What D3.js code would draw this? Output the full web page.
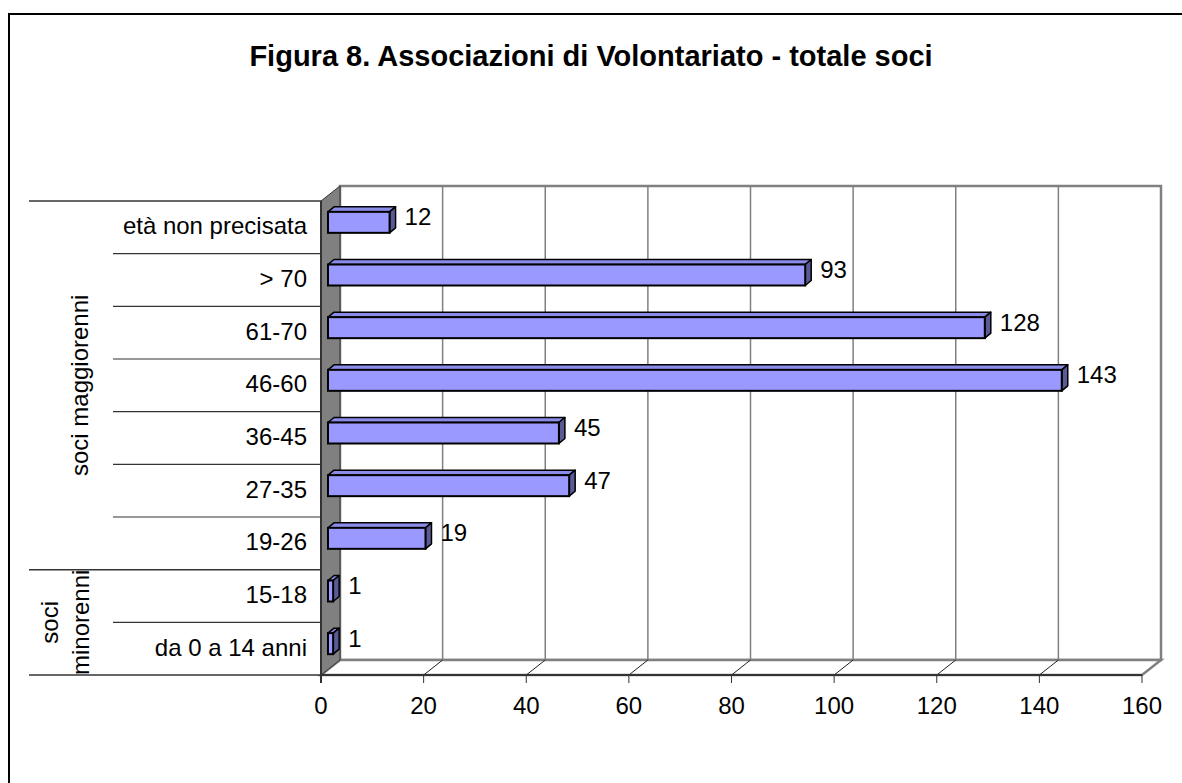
<!DOCTYPE html>
<html lang="it">
<head>
<meta charset="UTF-8">
<script src="https://d3js.org/d3.v7.min.js"></script>
<style>
  body { margin: 0; background: #fff; }
  svg text { font-family: Arial, "Liberation Sans", sans-serif; fill: #000; }
</style>
</head>
<body>
<svg id="chart" width="1182" height="783"></svg>
<script>
// categories listed top to bottom as they appear
const categories = ["età non precisata", "> 70", "61-70", "46-60", "36-45", "27-35", "19-26", "15-18", "da 0 a 14 anni"];
const values = [12, 93, 128, 143, 45, 47, 19, 1, 1];
const groupLabels = [["soci maggiorenni"], ["soci", "minorenni"]];
const groupSizes = [7, 2];
const xTicks = [0, 20, 40, 60, 80, 100, 120, 140, 160];
const title = "Figura 8. Associazioni di Volontariato - totale soci";

const svg = d3.select('#chart');
const DX = 19, DY = -15;      // depth of the 3d box
const BX = 7, BY = -5;        // bar position inside the depth
const TX = 6, TY = -5;        // bar thickness (depth)
const FS = 24;

const x = d3.scaleLinear().domain([0, 160]).range([321, 1142]);
const y = d3.scaleBand().domain(categories).range([201, 675]).paddingInner(0).paddingOuter(0);
const barH = 21;

// outer frame
svg.append('rect').attr('x', 9).attr('y', 14).attr('width', 1200).attr('height', 800)
  .attr('fill', 'none').attr('stroke', '#000').attr('stroke-width', 2);

svg.append('text').attr('x', 591).attr('y', 66).attr('text-anchor', 'middle')
  .style('font-size', '29px').style('font-weight', 'bold').text(title);

const x0 = x(0), yTop = 201, yBot = 675, xEnd = x(160);

// back wall
svg.append('rect').attr('x', x0 + DX).attr('y', yTop + DY)
  .attr('width', xEnd - x0).attr('height', yBot - yTop)
  .attr('fill', '#fff').attr('stroke', '#808080').attr('stroke-width', 2.5);

// gridlines on back wall
svg.selectAll('.grid').data(xTicks.slice(1, -1)).enter().append('line')
  .attr('x1', d => x(d) + DX).attr('x2', d => x(d) + DX)
  .attr('y1', yTop + DY).attr('y2', yBot + DY)
  .attr('stroke', '#808080').attr('stroke-width', 1.5);

// floor
svg.append('polygon')
  .attr('points', [[x0, yBot], [x0 + DX, yBot + DY], [xEnd + DX, yBot + DY], [xEnd, yBot]].join(' '))
  .attr('fill', '#fff').attr('stroke', '#808080').attr('stroke-width', 2.5);

svg.selectAll('.diag').data(xTicks.slice(1, -1)).enter().append('line')
  .attr('x1', d => x(d)).attr('y1', yBot).attr('x2', d => x(d) + DX).attr('y2', yBot + DY)
  .attr('stroke', '#222').attr('stroke-width', 1);

// left wall
svg.append('polygon')
  .attr('points', [[x0, yTop], [x0 + DX, yTop + DY], [x0 + DX, yBot + DY], [x0, yBot]].join(' '))
  .attr('fill', '#808080').attr('stroke', '#333').attr('stroke-width', 1);

// front axis line and ticks
svg.append('line').attr('x1', x0).attr('x2', xEnd).attr('y1', yBot).attr('y2', yBot)
  .attr('stroke', '#333').attr('stroke-width', 2);
svg.append('line').attr('x1', x0).attr('x2', x0).attr('y1', yTop).attr('y2', yBot + 8)
  .attr('stroke', '#333').attr('stroke-width', 2);
svg.selectAll('.tick').data(xTicks).enter().append('line')
  .attr('x1', d => x(d)).attr('x2', d => x(d)).attr('y1', yBot).attr('y2', yBot + 8)
  .attr('stroke', '#333').attr('stroke-width', 1);
svg.selectAll('.tickLabel').data(xTicks).enter().append('text')
  .attr('x', d => x(d)).attr('y', 714).attr('text-anchor', 'middle')
  .style('font-size', FS + 'px').text(d => d);

// category table
const bounds = d3.range(categories.length + 1).map(i => i < categories.length ? y(categories[i]) : yBot);
const groupEdges = [0];
groupSizes.forEach(n => groupEdges.push(groupEdges[groupEdges.length - 1] + n));
bounds.forEach((b, i) => {
  const isGroup = groupEdges.includes(i);
  svg.append('line').attr('x1', isGroup ? 29 : 113).attr('x2', x0).attr('y1', b).attr('y2', b)
    .attr('stroke', '#333').attr('stroke-width', isGroup ? 1.5 : 1.2);
});
svg.selectAll('.catLabel').data(categories).enter().append('text')
  .attr('x', 307).attr('y', d => y(d) + y.bandwidth() / 2 + 7).attr('text-anchor', 'end')
  .style('font-size', FS + 'px').text(d => d);

groupLabels.forEach((lines, gi) => {
  const top = bounds[groupEdges[gi]], bot = bounds[groupEdges[gi + 1]];
  const cy = (top + bot) / 2;
  const lineH = 31;
  const bx = lines.length > 1 ? 58 : 88;
  const t = svg.append('text').attr('transform', `translate(${bx},${cy}) rotate(-90)`)
    .attr('text-anchor', 'middle').style('font-size', FS + 'px');
  lines.forEach((l, li) => t.append('tspan').attr('x', 0).attr('y', li * lineH).text(l));
});

// bars
const bars = svg.selectAll('.bar').data(categories.map((c, i) => ({ c, v: values[i] }))).enter().append('g');
bars.each(function (d) {
  const g = d3.select(this);
  const xl = x(0) + BX, xr = x(d.v) + BX;
  const yc = y(d.c) + y.bandwidth() / 2 + BY;
  const yt = yc - barH / 2, yb = yc + barH / 2;
  g.append('polygon')
    .attr('points', [[xl, yt], [xl + TX, yt + TY], [xr + TX, yt + TY], [xr, yt]].join(' '))
    .attr('fill', '#8b8be8').attr('stroke', '#000').attr('stroke-width', 1.5).attr('stroke-linejoin', 'round');
  g.append('polygon')
    .attr('points', [[xr, yt], [xr + TX, yt + TY], [xr + TX, yb + TY], [xr, yb]].join(' '))
    .attr('fill', '#5a5a96').attr('stroke', '#000').attr('stroke-width', 1.5).attr('stroke-linejoin', 'round');
  g.append('rect').attr('x', xl).attr('y', yt).attr('width', xr - xl).attr('height', barH)
    .attr('fill', '#9999ff').attr('stroke', '#000').attr('stroke-width', 2);
  g.append('text').attr('x', xr + TX + 9).attr('y', yc + 3)
    .style('font-size', FS + 'px').text(d.v);
});
</script>
</body>
</html>
